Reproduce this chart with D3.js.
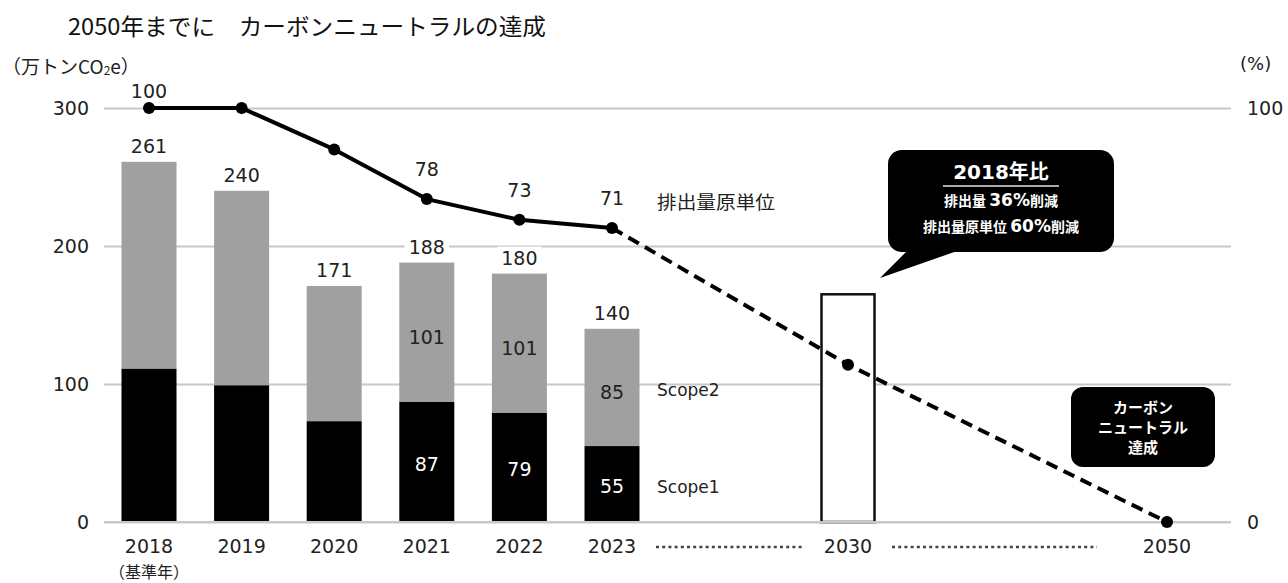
<!DOCTYPE html>
<html><head><meta charset="utf-8">
<script src="https://cdn.jsdelivr.net/npm/d3@7"></script>
<style>
html,body{margin:0;padding:0;background:#fff;}
svg{display:block;}
</style></head>
<body>
<svg id="chart" width="1288" height="583"></svg>
<script>
// ---- data ----
const years = [2018, 2019, 2020, 2021, 2022, 2023];
const scope1 = [111, 99, 73, 87, 79, 55];
const scope2 = [150, 141, 98, 101, 101, 85];
const totals = [261, 240, 171, 188, 180, 140];
const segLabelShown = [false, false, false, true, true, true];
const target2030Year = 2030;
const target2030 = 165;
const intensityYears = [2018, 2019, 2020, 2021, 2022, 2023, 2030, 2050];
const intensity = [100, 100, 90, 78, 73, 71, 38, 0];
const intensityLabels = ["100", "", "", "78", "73", "71", "", ""];
const leftTicks = [0, 100, 200, 300];
const rightTicks = [0, 100];
const xLabels = [2018, 2019, 2020, 2021, 2022, 2023, 2030, 2050];

const NUM = "'DejaVu Sans', Verdana, sans-serif";
const JP = "'Noto Sans CJK JP', 'Noto Sans', sans-serif";

const svg = d3.select("#chart");
const plotL = 104, plotR = 1231, plotT = 108, plotB = 522;

const x = d3.scaleLinear().domain([2018, 2023, 2030, 2050]).range([149, 612, 848, 1167]);
const y = d3.scaleLinear().domain([0, 300]).range([plotB, plotT]);
const yR = d3.scaleLinear().domain([0, 100]).range([plotB, plotT]);
const barW = 55;

// title
svg.append("text").attr("x", 68).attr("y", 35)
  .attr("font-family", JP).attr("font-size", 23).attr("fill", "#111")
  .attr("textLength", 478).attr("lengthAdjust", "spacingAndGlyphs")
  .text("2050年までに　カーボンニュートラルの達成");

// unit labels
svg.append("text").attr("x", 2).attr("y", 74)
  .attr("font-family", JP).attr("font-size", 19).attr("fill", "#222")
  .html("（万トンCO<tspan font-size='12' dy='1'>2</tspan><tspan dy='-1'>e）</tspan>");
svg.append("text").attr("x", 1240).attr("y", 70)
  .attr("font-family", NUM).attr("font-size", 18).attr("fill", "#222")
  .text("(%)");

// gridlines
const yAxisL = d3.axisLeft(y).tickValues(leftTicks).tickSize(-(plotR - plotL)).tickPadding(15);
const gL = svg.append("g").attr("transform", `translate(${plotL},0)`).call(yAxisL);
gL.select(".domain").remove();
gL.selectAll(".tick line").attr("stroke", "#c8c8c8").attr("stroke-width", 2);
gL.selectAll(".tick text").attr("font-family", NUM).attr("font-size", 19).attr("fill", "#222");

const yAxisR = d3.axisRight(yR).tickValues(rightTicks).tickSize(0).tickPadding(16);
const gR = svg.append("g").attr("transform", `translate(${plotR},0)`).call(yAxisR);
gR.select(".domain").remove();
gR.selectAll(".tick text").attr("font-family", NUM).attr("font-size", 19).attr("fill", "#222");

// bars
const barData = years.map((yr, i) => ({yr, s1: scope1[i], s2: scope2[i], total: totals[i], show: segLabelShown[i]}));
const bars = svg.append("g");
bars.selectAll("rect.s2").data(barData).join("rect").attr("class", "s2")
  .attr("x", d => x(d.yr) - barW / 2).attr("width", barW)
  .attr("y", d => y(d.s1 + d.s2)).attr("height", d => y(d.s1) - y(d.s1 + d.s2))
  .attr("fill", "#9fa09f");
bars.selectAll("rect.s1").data(barData).join("rect").attr("class", "s1")
  .attr("x", d => x(d.yr) - barW / 2).attr("width", barW)
  .attr("y", d => y(d.s1)).attr("height", d => y(0) - y(d.s1))
  .attr("fill", "#000");

// segment labels
bars.selectAll("text.l2").data(barData.filter(d => d.show)).join("text").attr("class", "l2")
  .attr("x", d => x(d.yr)).attr("y", d => (y(d.s1) + y(d.s1 + d.s2)) / 2 + 12)
  .attr("text-anchor", "middle").attr("font-family", NUM).attr("font-size", 19).attr("fill", "#222")
  .text(d => d.s2);
bars.selectAll("text.l1").data(barData.filter(d => d.show)).join("text").attr("class", "l1")
  .attr("x", d => x(d.yr)).attr("y", d => (y(0) + y(d.s1)) / 2 + 9)
  .attr("text-anchor", "middle").attr("font-family", NUM).attr("font-size", 19).attr("fill", "#fff")
  .text(d => d.s1);

// total labels with white background
const tot = svg.append("g");
barData.forEach(d => {
  const t = tot.append("text").attr("x", x(d.yr)).attr("y", y(d.total) - 9)
    .attr("text-anchor", "middle").attr("font-family", NUM).attr("font-size", 19).attr("fill", "#222")
    .text(d.total);
  const bb = t.node().getBBox();
  tot.insert("rect", () => t.node()).attr("x", bb.x - 4).attr("y", bb.y).attr("width", bb.width + 8).attr("height", bb.height).attr("fill", "#fff");
});

// 2030 target box
svg.append("rect").attr("x", x(target2030Year) - 26.5).attr("width", 53)
  .attr("y", y(target2030)).attr("height", y(0) - y(target2030))
  .attr("fill", "#fff").attr("stroke", "#111").attr("stroke-width", 2.5);

// zero line over bars
svg.append("line").attr("x1", plotL).attr("x2", plotR).attr("y1", y(0)).attr("y2", y(0))
  .attr("stroke", "#c8c8c8").attr("stroke-width", 2);

// intensity line
const pts = intensityYears.map((yr, i) => ({yr, v: intensity[i], lab: intensityLabels[i]}));
const line = d3.line().x(d => x(d.yr)).y(d => yR(d.v));
svg.append("path").attr("d", line(pts.slice(0, 6))).attr("fill", "none")
  .attr("stroke", "#000").attr("stroke-width", 4).attr("stroke-linejoin", "round");
svg.append("path").attr("d", line(pts.slice(5))).attr("fill", "none")
  .attr("stroke", "#000").attr("stroke-width", 4).attr("stroke-dasharray", "12,7");
svg.append("g").selectAll("circle").data(pts).join("circle")
  .attr("cx", d => x(d.yr)).attr("cy", d => yR(d.v)).attr("r", 6).attr("fill", "#000");
svg.append("g").selectAll("text").data(pts.filter(d => d.lab)).join("text")
  .attr("x", d => x(d.yr)).attr("y", d => Math.max(yR(d.v) - 23, yR(100) - 10))
  .attr("text-anchor", "middle").attr("font-family", NUM).attr("font-size", 19).attr("fill", "#222")
  .text(d => d.lab);

// series labels
svg.append("text").attr("x", 657).attr("y", 209).attr("font-family", JP).attr("font-size", 18).attr("fill", "#222")
  .attr("textLength", 118).attr("lengthAdjust", "spacingAndGlyphs").text("排出量原単位");
svg.append("text").attr("x", 657).attr("y", y(scope1[5] + scope2[5] / 2) + 9).attr("font-family", NUM).attr("font-size", 17).attr("fill", "#222").text("Scope2");
svg.append("text").attr("x", 657).attr("y", y(scope1[5] / 2) + 9).attr("font-family", NUM).attr("font-size", 17).attr("fill", "#222").text("Scope1");

// x axis labels
const gx = svg.append("g");
gx.selectAll("text").data(xLabels).join("text")
  .attr("x", d => x(d)).attr("y", 553).attr("text-anchor", "middle")
  .attr("font-family", NUM).attr("font-size", 19).attr("fill", "#222").text(d => d);
gx.append("text").attr("x", x(2018)).attr("y", 578).attr("text-anchor", "middle")
  .attr("font-family", JP).attr("font-size", 16).attr("fill", "#222").text("（基準年）");
// dotted connectors
[[2023, 2030, 44, 44], [2030, 2050, 44, 70]].forEach(([a, b, ga, gb]) => {
  gx.append("line").attr("x1", x(a) + ga).attr("x2", x(b) - gb).attr("y1", 547).attr("y2", 547)
    .attr("stroke", "#444").attr("stroke-width", 2.5).attr("stroke-dasharray", "3,3.2");
});

// callout 2018比
const c = svg.append("g");
const cx0 = 888, cx1 = 1114, cy0 = 150, cy1 = 252;
c.append("rect").attr("x", cx0).attr("y", cy0).attr("width", cx1 - cx0).attr("height", cy1 - cy0).attr("rx", 14).attr("fill", "#000");
c.append("path").attr("d", `M908,${cy1 - 2} L880,278 L960,${cy1 - 2} Z`).attr("fill", "#000");
const ccx = (cx0 + cx1) / 2;
c.append("text").attr("x", ccx).attr("y", 179).attr("text-anchor", "middle").attr("fill", "#fff")
  .attr("font-family", NUM).attr("font-weight", "bold").attr("font-size", 20)
  .html("2018<tspan font-family=\"'Noto Sans CJK JP'\">年比</tspan>");
c.append("line").attr("x1", ccx - 58).attr("x2", ccx + 58).attr("y1", 186).attr("y2", 186).attr("stroke", "#aaa").attr("stroke-width", 2);
c.append("text").attr("x", ccx).attr("y", 206).attr("text-anchor", "middle").attr("fill", "#fff")
  .attr("font-family", JP).attr("font-weight", "bold").attr("font-size", 14)
  .html("排出量 <tspan font-family=\"'DejaVu Sans'\" font-size='17'>36%</tspan>削減");
c.append("text").attr("x", ccx).attr("y", 232).attr("text-anchor", "middle").attr("fill", "#fff")
  .attr("font-family", JP).attr("font-weight", "bold").attr("font-size", 14)
  .html("排出量原単位 <tspan font-family=\"'DejaVu Sans'\" font-size='17'>60%</tspan>削減");

// carbon neutral box
const b = svg.append("g");
b.append("rect").attr("x", 1071).attr("y", 387).attr("width", 144).attr("height", 80).attr("rx", 12).attr("fill", "#000");
["カーボン", "ニュートラル", "達成"].forEach((t, i) => {
  b.append("text").attr("x", 1143).attr("y", 413 + i * 20).attr("text-anchor", "middle")
    .attr("font-family", JP).attr("font-weight", "bold").attr("font-size", 15).attr("fill", "#fff").text(t);
});
</script>
</body></html>
